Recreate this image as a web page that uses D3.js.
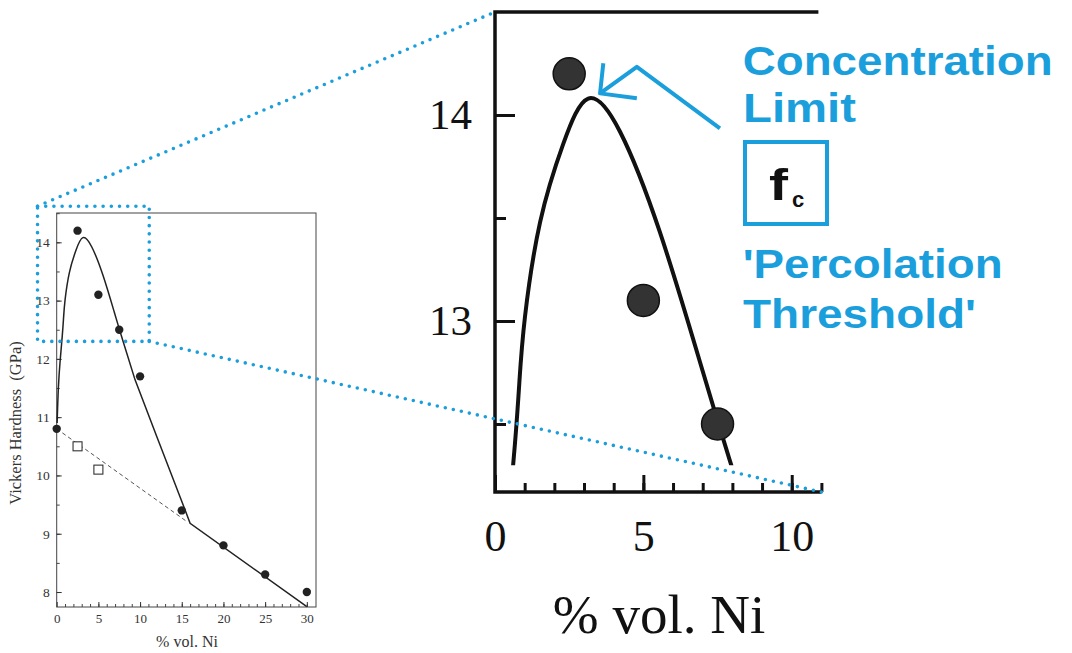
<!DOCTYPE html>
<html>
<head>
<meta charset="utf-8">
<script src="https://cdn.jsdelivr.net/npm/d3@7"></script>
<style>
body { margin: 0; background: #fff; }
</style>
</head>
<body>
<div id="my_dataviz"></div>
<script>
// filled circles (Vickers hardness, GPa)
var niFilled = [0, 2.5, 5, 7.5, 10, 15, 20, 25, 30];
var hvFilled = [10.8, 14.2, 13.1, 12.5, 11.7, 9.4, 8.8, 8.3, 8.0];
// open squares
var niOpen = [2.5, 5];
var hvOpen = [10.5, 10.1];
// dashed line
var dashNi = [0, 15.7];
var dashHv = [10.8, 9.2];
// solid fitted curve
var curveNi = [0.05, 0.2, 0.42, 0.67, 0.82, 1.01, 1.52, 2.3, 3.14, 4.21, 5.56, 6.91, 7.92, 9.4, 12.0, 15.1, 16.0, 30.0];
var curveHv = [10.9, 11.5, 11.98, 12.4, 12.7, 13.02, 13.48, 13.86, 14.08, 13.92, 13.43, 12.8, 12.32, 11.64, 10.67, 9.52, 9.18, 7.75];
// tick labels
var xTicksSmall = [0, 5, 10, 15, 20, 25, 30];
var yTicksSmall = [8, 9, 10, 11, 12, 13, 14];
var xTicksZoom = [0, 5, 10];
var yTicksZoom = [13, 14];
// zoomed window (data units)
var zoomNi = [-2.3, 11.1];
var zoomHv = [12.3, 14.62];
// arrow in zoom data units: arm, tip, arm / tip, bend, end
var arrowHeadNi = [3.65, 3.54, 4.78];
var arrowHeadHv = [14.251, 14.105, 14.081];
var arrowShaftNi = [3.54, 4.78, 7.58];
var arrowShaftHv = [14.105, 14.234, 13.935];
var noteLines = ["Concentration", "Limit", "'Percolation", "Threshold'"];

var blue = "#1b9fdc";
var serif = "'Liberation Serif', 'Times New Roman', serif";
var sans = "'Liberation Sans', Arial, sans-serif";

var svg = d3.select("#my_dataviz")
	.append("svg")
	.attr("width", 1072)
	.attr("height", 653)
	.style("background", "#fff");

//kleine Grafik: Skalen
var sx = d3.scaleLinear().domain([0, 31.1]).range([56.7, 316]);
var sy = d3.scaleLinear().domain([7.743, 14.503]).range([607, 213]);

//grosse Grafik (Zoom): Skalen
var bx = d3.scaleLinear().domain([0, 11]).range([495, 821.4]);
var by = d3.scaleLinear().domain([12.17, 14.5]).range([492, 12]);

function styleAxis(g, color, width, font, size) {
	g.select(".domain").remove();
	g.selectAll(".tick line").attr("stroke", color).attr("stroke-width", width);
	g.selectAll("text").attr("fill", color);
	g.attr("font-family", font).attr("font-size", size);
}

// ---- small chart ----
var small = svg.append("g");

small.append("rect")
	.attr("x", sx(0)).attr("y", sy(14.503))
	.attr("width", sx(31.1) - sx(0)).attr("height", sy(7.743) - sy(14.503))
	.attr("fill", "none").attr("stroke", "#444").attr("stroke-width", 1);

small.append("g").attr("transform", "translate(0," + sy(7.743) + ")")
	.call(d3.axisBottom(sx).tickValues(d3.range(1, 31)).tickSize(-3).tickFormat(""))
	.call(function(g) { styleAxis(g, "#444", 1, serif, 13); });
small.append("g").attr("transform", "translate(0," + sy(7.743) + ")")
	.call(d3.axisBottom(sx).tickValues(xTicksSmall).tickSize(-5).tickPadding(7).tickFormat(d3.format("d")))
	.call(function(g) { styleAxis(g, "#333", 1, serif, 13); });

small.append("g").attr("transform", "translate(" + sx(0) + ",0)")
	.call(d3.axisLeft(sy).tickValues(d3.range(8, 14.6, 0.5)).tickSize(-3).tickFormat(""))
	.call(function(g) { styleAxis(g, "#444", 1, serif, 13); });
small.append("g").attr("transform", "translate(" + sx(0) + ",0)")
	.call(d3.axisLeft(sy).tickValues(yTicksSmall).tickSize(-5).tickPadding(7).tickFormat(d3.format("d")))
	.call(function(g) { styleAxis(g, "#333", 1, serif, 13.5); });

small.append("text")
	.attr("transform", "translate(21,423)rotate(-90)")
	.attr("text-anchor", "middle")
	.style("white-space", "pre")
	.style("font-family", serif).style("font-size", "16.5px").attr("fill", "#333")
	.text("Vickers Hardness  (GPa)");

small.append("text")
	.attr("x", 187).attr("y", 647)
	.attr("text-anchor", "middle")
	.style("font-family", serif).style("font-size", "16px").attr("fill", "#333")
	.text("% vol. Ni");

var curveData = curveNi.map(function(d, i) { return [d, curveHv[i]]; });
var curvePart = curveData.filter(function(d) { return d[0] <= 9.4; });
var linePart = curveData.filter(function(d) { return d[0] >= 9.4; });

function curvePath(xs, ys) {
	return d3.line().x(function(d) { return xs(d[0]); }).y(function(d) { return ys(d[1]); })
		.curve(d3.curveNatural)(curvePart)
		+ d3.line().x(function(d) { return xs(d[0]); }).y(function(d) { return ys(d[1]); })(linePart).replace("M", "L");
}

small.append("path")
	.attr("d", d3.line().x(function(d, i) { return sx(d); }).y(function(d, i) { return sy(dashHv[i]); })(dashNi))
	.attr("fill", "none").attr("stroke", "#555").attr("stroke-width", 1).attr("stroke-dasharray", "4,3");

small.append("path")
	.attr("d", curvePath(sx, sy))
	.attr("fill", "none").attr("stroke", "#222").attr("stroke-width", 1.5);

small.selectAll("circle.pt")
	.data(niFilled).enter().append("circle")
	.attr("cx", function(d) { return sx(d); })
	.attr("cy", function(d, i) { return sy(hvFilled[i]); })
	.attr("r", 4.2).attr("fill", "#222");

small.selectAll("rect.sq")
	.data(niOpen).enter().append("rect")
	.attr("x", function(d) { return sx(d) - 4.5; })
	.attr("y", function(d, i) { return sy(hvOpen[i]) - 4.5; })
	.attr("width", 9).attr("height", 9)
	.attr("fill", "#fff").attr("stroke", "#333").attr("stroke-width", 1.1);

// ---- zoomed chart ----
var big = svg.append("g");

big.append("clipPath").attr("id", "zoomclip")
	.append("rect")
	.attr("x", bx(0)).attr("y", by(14.5))
	.attr("width", bx(11) - bx(0)).attr("height", by(zoomHv[0]) - by(14.5));

big.append("g").attr("transform", "translate(0," + by(12.17) + ")")
	.call(d3.axisBottom(bx).tickValues(d3.range(1, 12)).tickSize(-9).tickFormat(""))
	.call(function(g) { styleAxis(g, "#111", 3, serif, 44); });
big.append("g").attr("transform", "translate(0," + by(12.17) + ")")
	.call(d3.axisBottom(bx).tickValues(xTicksZoom).tickSize(-17).tickPadding(28).tickFormat(d3.format("d")))
	.call(function(g) { styleAxis(g, "#111", 3, serif, 44); });

big.append("g").attr("transform", "translate(" + bx(0) + ",0)")
	.call(d3.axisLeft(by).tickValues([12.5, 13.5]).tickSize(-11).tickFormat(""))
	.call(function(g) { styleAxis(g, "#111", 3, serif, 43); });
big.append("g").attr("transform", "translate(" + bx(0) + ",0)")
	.call(d3.axisLeft(by).tickValues(yTicksZoom).tickSize(-20).tickPadding(23).tickFormat(d3.format("d")))
	.call(function(g) { styleAxis(g, "#111", 3, serif, 43); });

//Achsenlinien
big.append("path")
	.attr("d", "M" + bx(11) + "," + by(12.17) + "H" + bx(0) + "V" + by(14.5) + "H" + (bx(11) - 3))
	.attr("fill", "none").attr("stroke", "#111").attr("stroke-width", 3.5);

big.append("text")
	.attr("x", 659).attr("y", 633)
	.attr("text-anchor", "middle")
	.style("font-family", serif).style("font-size", "55px").attr("fill", "#111")
	.text("% vol. Ni");

var plot = big.append("g").attr("clip-path", "url(#zoomclip)");

plot.append("path")
	.attr("d", curvePath(bx, by))
	.attr("fill", "none").attr("stroke", "#111").attr("stroke-width", 4);

plot.selectAll("circle")
	.data(niFilled).enter().append("circle")
	.attr("cx", function(d) { return bx(d); })
	.attr("cy", function(d, i) { return by(hvFilled[i]); })
	.attr("r", 16).attr("fill", "#333").attr("stroke", "#111").attr("stroke-width", 1.5);

// ---- blue zoom markers ----
var dotted = { "stroke": blue, "stroke-width": 3.6, "stroke-dasharray": "0 8.2", "stroke-linecap": "round", "fill": "none" };

function applyAttrs(sel, obj) {
	for (var k in obj) sel.attr(k, obj[k]);
	return sel;
}

applyAttrs(svg.append("rect")
	.attr("x", sx(zoomNi[0])).attr("y", sy(zoomHv[1]))
	.attr("width", sx(zoomNi[1]) - sx(zoomNi[0])).attr("height", sy(zoomHv[0]) - sy(zoomHv[1])), dotted);

applyAttrs(svg.append("line")
	.attr("x1", sx(zoomNi[0])).attr("y1", sy(zoomHv[1]))
	.attr("x2", bx(0)).attr("y2", by(14.5)), dotted);

applyAttrs(svg.append("line")
	.attr("x1", sx(zoomNi[1])).attr("y1", sy(zoomHv[0]))
	.attr("x2", bx(11)).attr("y2", by(12.17)), dotted);

//Pfeil
var arrowLine = function(xs, ys) {
	return d3.line().x(function(d) { return bx(d); }).y(function(d, i) { return by(ys[i]); })(xs);
};
svg.append("path").attr("d", arrowLine(arrowHeadNi, arrowHeadHv))
	.attr("fill", "none").attr("stroke", blue).attr("stroke-width", 4).attr("stroke-linejoin", "round");
svg.append("path").attr("d", arrowLine(arrowShaftNi, arrowShaftHv))
	.attr("fill", "none").attr("stroke", blue).attr("stroke-width", 4).attr("stroke-linejoin", "round");

//Beschriftung
var notePos = [[742.7, 75, 310], [743, 121.7, 113], [742.7, 278.3, 260], [743, 328.3, 233]];
svg.selectAll("text.note")
	.data(noteLines).enter().append("text")
	.attr("class", "note")
	.attr("x", function(d, i) { return notePos[i][0]; })
	.attr("y", function(d, i) { return notePos[i][1]; })
	.attr("textLength", function(d, i) { return notePos[i][2]; })
	.attr("lengthAdjust", "spacingAndGlyphs")
	.style("font-family", sans).style("font-weight", "bold").style("font-size", "40px")
	.attr("fill", blue)
	.text(function(d) { return d; });

svg.append("rect")
	.attr("x", 745).attr("y", 142).attr("width", 82).attr("height", 82)
	.attr("fill", "none").attr("stroke", blue).attr("stroke-width", 4);

svg.append("text")
	.attr("x", 769).attr("y", 200)
	.attr("textLength", 19).attr("lengthAdjust", "spacingAndGlyphs")
	.style("font-family", sans).style("font-weight", "bold").style("font-size", "45px")
	.attr("fill", "#111")
	.text("f");
svg.append("text")
	.attr("x", 792).attr("y", 207)
	.style("font-family", sans).style("font-weight", "bold").style("font-size", "22px")
	.attr("fill", "#111")
	.text("c");
</script>
</body>
</html>
